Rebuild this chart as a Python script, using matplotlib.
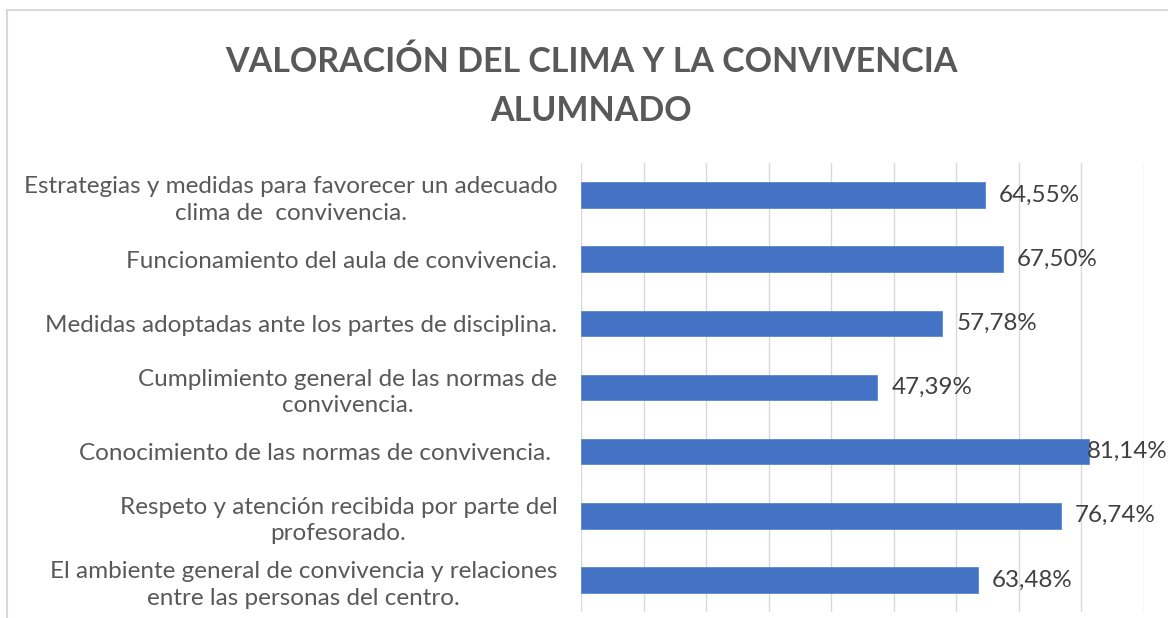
import matplotlib
matplotlib.use("Agg")
import matplotlib.pyplot as plt
from matplotlib.patches import Rectangle

title = "VALORACIÓN DEL CLIMA Y LA CONVIVENCIA\nALUMNADO"
categories = [
    "Estrategias y medidas para favorecer un adecuado\nclima de  convivencia.",
    "Funcionamiento del aula de convivencia.",
    "Medidas adoptadas ante los partes de disciplina.",
    "Cumplimiento general de las normas de\nconvivencia.",
    "Conocimiento de las normas de convivencia. ",
    "Respeto y atención recibida por parte del\nprofesorado.",
    "El ambiente general de convivencia y relaciones\nentre las personas del centro.",
]
values = [0.6455, 0.6750, 0.5778, 0.4739, 0.8114, 0.7674, 0.6348]
x_ticks = [0.0, 0.1, 0.2, 0.3, 0.4, 0.5, 0.6, 0.7, 0.8, 0.9]

W, H = 1168, 618
fig = plt.figure(figsize=(W / 100, H / 100), dpi=100)
fig.patch.set_facecolor("white")

# chart frame
fig.patches.append(Rectangle((7 / W, -0.2), 1.2, 0.2 + (1 - 10 / H), transform=fig.transFigure,
                             fill=False, edgecolor="#d9d9d9", linewidth=1.5))

ax = fig.add_axes([581 / W, 6 / H, (1144 - 581) / W, (612 - 163) / H])
ypos = list(range(len(categories)))[::-1]
bars = ax.barh(ypos, values, height=0.4, color="#4472c4", edgecolor="#5b86d0", linewidth=0.6, zorder=3)

ax.set_xlim(x_ticks[0], x_ticks[-1])
ax.set_ylim(-0.5, len(categories) - 0.5)
ax.set_xticks(x_ticks)
ax.xaxis.grid(True, color="#d9d9d9", linewidth=1.0, zorder=0)
ax.tick_params(axis="x", length=0, labelbottom=False)
ax.tick_params(axis="y", length=0, pad=17)
ax.set_yticks(ypos)
ax.set_yticklabels(categories, fontsize=17.5, color="#595959", family="Lato",
                   multialignment="center", linespacing=1.33)
for s in ax.spines.values():
    s.set_visible(False)

labels = []
for b, v in zip(bars, values):
    txt = f"{v * 100:.2f}%".replace(".", ",")
    t = ax.annotate(txt, xy=(b.get_width(), b.get_y() + b.get_height() / 2),
                    xytext=(10, 0), textcoords="offset points", ha="left", va="center",
                    fontsize=17.4, color="#404040", family="Lato", clip_on=False)
    labels.append(t)

fig.canvas.draw()
r = fig.canvas.get_renderer()
for t in labels:
    bb = t.get_window_extent(r)
    if bb.x1 > W - 1:
        t.set_position((t.xyann[0] - (bb.x1 - (W - 1)) * 72 / 100, 0))

fig.text(591 / W, 1 - 86 / H, title, ha="center", va="center", fontsize=24.5,
         fontweight="bold", color="#595959", family="Lato", linespacing=1.65)

fig.savefig("out.png", dpi=100, facecolor="white")
